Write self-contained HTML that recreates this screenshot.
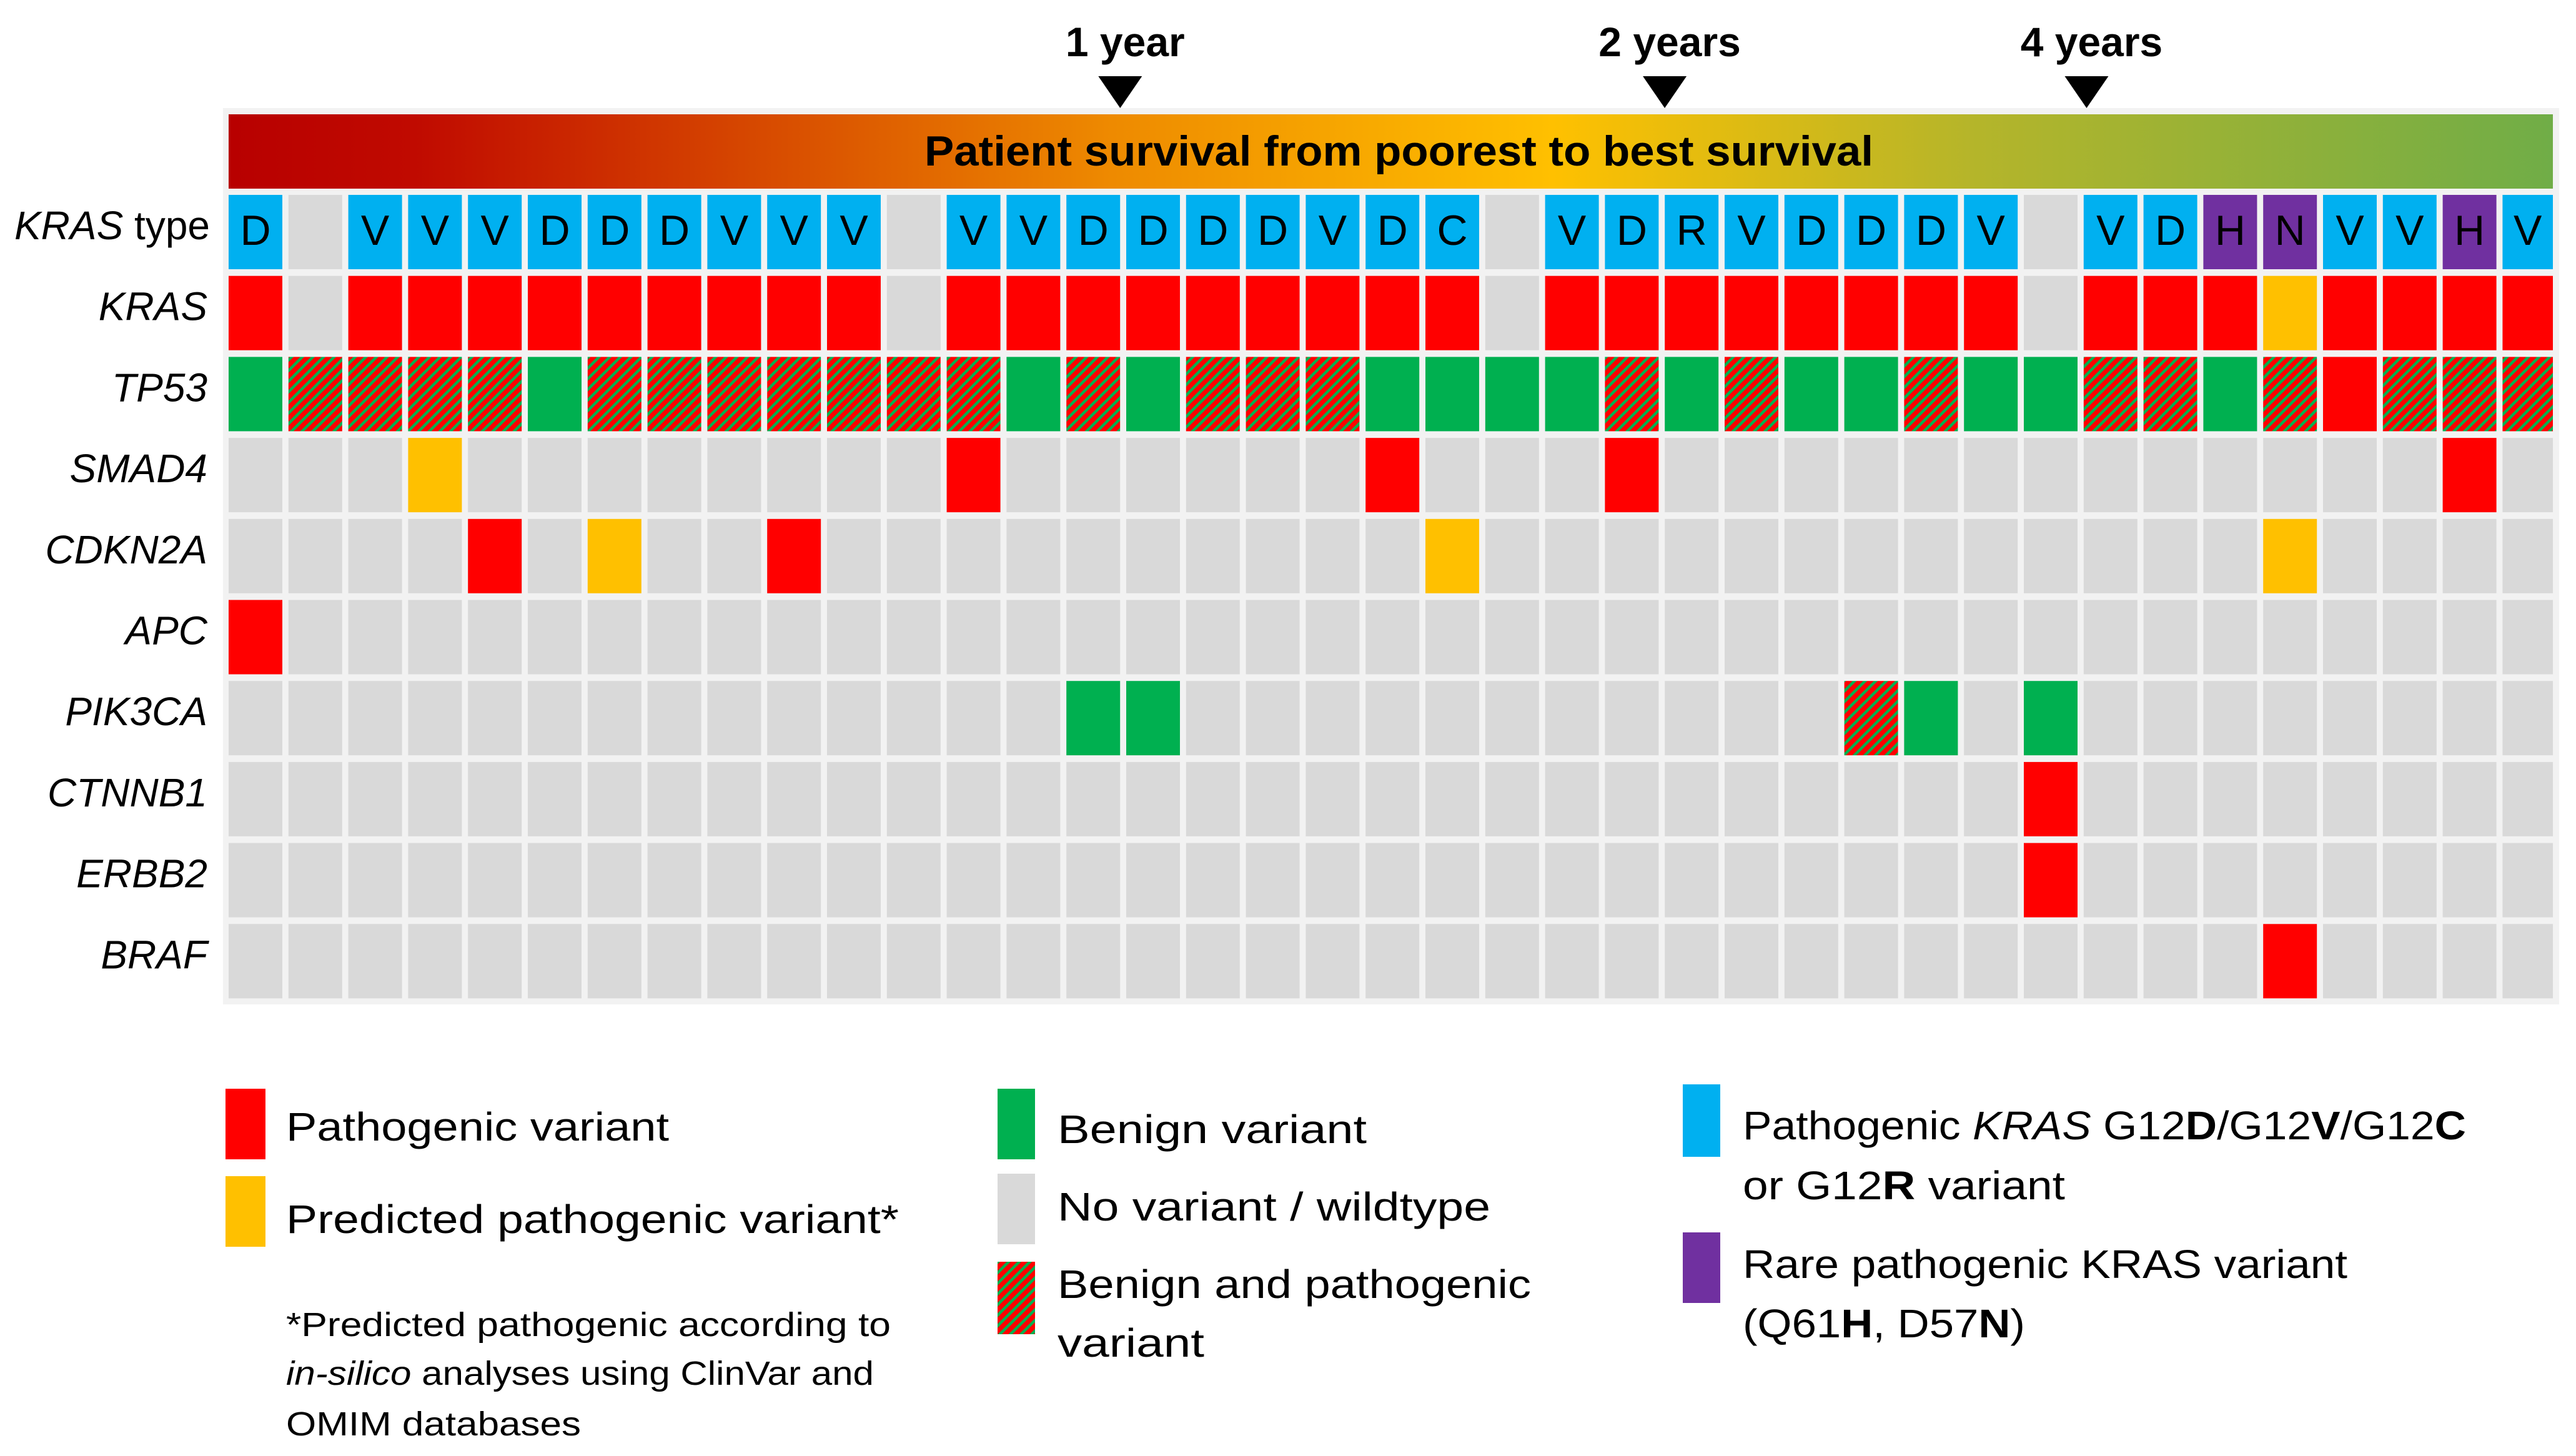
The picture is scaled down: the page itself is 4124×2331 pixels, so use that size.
<!DOCTYPE html>
<html><head><meta charset="utf-8"><style>
html,body{margin:0;padding:0;background:#fff;}
svg{display:block;}
text{font-family:"Liberation Sans",sans-serif;}
</style></head><body>
<svg id="chart" xmlns="http://www.w3.org/2000/svg" width="4124" height="2331" viewBox="0 0 4124 2331">
<defs>
<linearGradient id="surv" x1="0" x2="1" y1="0" y2="0">
<stop offset="0" stop-color="#B80000"/>
<stop offset="0.08" stop-color="#C00A00"/>
<stop offset="0.38" stop-color="#EE8A00"/>
<stop offset="0.57" stop-color="#FFC000"/>
<stop offset="0.75" stop-color="#B5B52A"/>
<stop offset="1" stop-color="#70AD47"/>
</linearGradient>
<pattern id="hatch" patternUnits="userSpaceOnUse" width="12" height="12" patternTransform="rotate(45)">
<rect x="0" y="0" width="12" height="12" fill="#FF0000"/>
<rect x="0" y="0" width="4.5" height="12" fill="#00B050"/>
</pattern>
</defs>
<rect x="357" y="173" width="3740" height="1435" fill="#F2F2F2"/>
<rect x="366" y="183" width="3721" height="119" fill="url(#surv)"/>
<text x="1480" y="265" font-size="68" font-weight="bold" textLength="1519" lengthAdjust="spacingAndGlyphs" fill="#000">Patient survival from poorest to best survival</text>
<g id="markers"></g>
<g id="cells"></g>
<g id="labels"></g>
<g>
<rect x="361" y="1743" width="64" height="113" fill="#FF0000"/>
<text x="458" y="1826" font-size="64" textLength="613" lengthAdjust="spacingAndGlyphs">Pathogenic variant</text>
<rect x="361" y="1883" width="64" height="113" fill="#FFC000"/>
<text x="458" y="1974" font-size="64" textLength="981" lengthAdjust="spacingAndGlyphs">Predicted pathogenic variant*</text>
<text x="458" y="2139" font-size="54" textLength="968" lengthAdjust="spacingAndGlyphs">*Predicted pathogenic according to</text>
<text x="458" y="2217" font-size="54" textLength="941" lengthAdjust="spacingAndGlyphs"><tspan font-style="italic">in-silico</tspan> analyses using ClinVar and</text>
<text x="458" y="2298" font-size="54" textLength="472" lengthAdjust="spacingAndGlyphs">OMIM databases</text>
<rect x="1597" y="1743" width="60" height="113" fill="#00B050"/>
<text x="1693" y="1830" font-size="64" textLength="495" lengthAdjust="spacingAndGlyphs">Benign variant</text>
<rect x="1597" y="1879" width="60" height="113" fill="#D9D9D9"/>
<text x="1693" y="1954" font-size="64" textLength="693" lengthAdjust="spacingAndGlyphs">No variant / wildtype</text>
<rect x="1597" y="2020" width="60" height="116" fill="url(#hatch)"/>
<text x="1693" y="2078" font-size="64" textLength="758" lengthAdjust="spacingAndGlyphs">Benign and pathogenic</text>
<text x="1693" y="2172" font-size="64" textLength="235" lengthAdjust="spacingAndGlyphs">variant</text>
<rect x="2694" y="1736" width="60" height="116" fill="#00B0F0"/>
<text x="2790" y="1824" font-size="64" textLength="1158" lengthAdjust="spacingAndGlyphs">Pathogenic <tspan font-style="italic">KRAS</tspan> G12<tspan font-weight="bold">D</tspan>/G12<tspan font-weight="bold">V</tspan>/G12<tspan font-weight="bold">C</tspan></text>
<text x="2790" y="1920" font-size="64" textLength="516" lengthAdjust="spacingAndGlyphs">or G12<tspan font-weight="bold">R</tspan> variant</text>
<rect x="2694" y="1973" width="60" height="113" fill="#7030A0"/>
<text x="2790" y="2046" font-size="64" textLength="968" lengthAdjust="spacingAndGlyphs">Rare pathogenic KRAS variant</text>
<text x="2790" y="2141" font-size="64" textLength="452" lengthAdjust="spacingAndGlyphs">(Q61<tspan font-weight="bold">H</tspan>, D57<tspan font-weight="bold">N</tspan>)</text>
</g>
</svg>
<script>
const genes = ["KRAS", "TP53", "SMAD4", "CDKN2A", "APC", "PIK3CA", "CTNNB1", "ERBB2", "BRAF"];
const krasType = ["D","","V","V","V","D","D","D","V","V","V","","V","V","D","D","D","D","V","D","C","","V","D","R","V","D","D","D","V","","V","D","H","N","V","V","H","V"];
const rareTypes = ["H","N"];
const rowKRAS   = [1,0,1,1,1,1,1,1,1,1,1,0,1,1,1,1,1,1,1,1,1,0,1,1,1,1,1,1,1,1,0,1,1,1,2,1,1,1,1];
const rowTP53   = [3,4,4,4,4,3,4,4,4,4,4,4,4,3,4,3,4,4,4,3,3,3,3,4,3,4,3,3,4,3,3,4,4,3,4,1,4,4,4];
const rowSMAD4  = [0,0,0,2,0,0,0,0,0,0,0,0,1,0,0,0,0,0,0,1,0,0,0,1,0,0,0,0,0,0,0,0,0,0,0,0,0,1,0];
const rowCDKN2A = [0,0,0,0,1,0,2,0,0,1,0,0,0,0,0,0,0,0,0,0,2,0,0,0,0,0,0,0,0,0,0,0,0,0,2,0,0,0,0];
const rowAPC    = [1,0,0,0,0,0,0,0,0,0,0,0,0,0,0,0,0,0,0,0,0,0,0,0,0,0,0,0,0,0,0,0,0,0,0,0,0,0,0];
const rowPIK3CA = [0,0,0,0,0,0,0,0,0,0,0,0,0,0,3,3,0,0,0,0,0,0,0,0,0,0,0,4,3,0,3,0,0,0,0,0,0,0,0];
const rowCTNNB1 = [0,0,0,0,0,0,0,0,0,0,0,0,0,0,0,0,0,0,0,0,0,0,0,0,0,0,0,0,0,0,1,0,0,0,0,0,0,0,0];
const rowERBB2  = [0,0,0,0,0,0,0,0,0,0,0,0,0,0,0,0,0,0,0,0,0,0,0,0,0,0,0,0,0,0,1,0,0,0,0,0,0,0,0];
const rowBRAF   = [0,0,0,0,0,0,0,0,0,0,0,0,0,0,0,0,0,0,0,0,0,0,0,0,0,0,0,0,0,0,0,0,0,0,1,0,0,0,0];
const markerLabels = ["1 year", "2 years", "4 years"];
const markerPositions = [14.95, 24.05, 31.1];

const geneRows = [rowKRAS,rowTP53,rowSMAD4,rowCDKN2A,rowAPC,rowPIK3CA,rowCTNNB1,rowERBB2,rowBRAF];
const NS = "http://www.w3.org/2000/svg";
const fills = ["#D9D9D9","#FF0000","#FFC000","#00B050","url(#hatch)"];
const X0 = 366, PITCH = 95.8, CW = 86, Y0 = 312, RPITCH = 129.7, RH = 119, GRID_RIGHT = 4087;
function xCol(i){ return X0 + i*PITCH; }
function yRow(r){ return Y0 + r*RPITCH; }
function colW(i){ return Math.min(CW, GRID_RIGHT - xCol(i)); }
function mk(tag, attrs, parent){ const e=document.createElementNS(NS,tag); for(const k in attrs) e.setAttribute(k,attrs[k]); parent.appendChild(e); return e; }

const cells = document.getElementById('cells');
const labels = document.getElementById('labels');
const markers = document.getElementById('markers');

krasType.forEach((t,i)=>{
  const fill = t==="" ? "#D9D9D9" : (rareTypes.includes(t) ? "#7030A0" : "#00B0F0");
  const r = mk('rect',{x:xCol(i),y:yRow(0),width:colW(i),height:RH,fill:fill},cells);
  
  
  if(t!==""){
    const tx = mk('text',{x:xCol(i)+colW(i)/2,y:yRow(0)+80,'font-size':68,'text-anchor':'middle',fill:'#000'},cells);
    tx.textContent = t;
    
    
  }
});
geneRows.forEach((row,g)=>{
  row.forEach((v,i)=>{
    const r = mk('rect',{x:xCol(i),y:yRow(g+1),width:colW(i),height:RH,fill:fills[v]},cells);
    
    
  });
});
const lt = mk('text',{x:336,y:yRow(0)+71,'font-size':64,'text-anchor':'end',fill:'#000'},labels);
lt.innerHTML = '<tspan font-style="italic">KRAS</tspan> type';


genes.forEach((g,k)=>{
  const t = mk('text',{x:332,y:yRow(k+1)+71,'font-size':64,'font-style':'italic','text-anchor':'end',fill:'#000'},labels);
  t.textContent = g;
  
  
});
markerLabels.forEach((lab,k)=>{
  const cx = X0 + markerPositions[k]*PITCH - (PITCH-CW)/2;
  const tri = mk('path',{d:`M${cx-35},122 L${cx+35},122 L${cx},173 Z`,fill:'#000'},markers);
  
  
  const t = mk('text',{x:cx+8,y:90,'font-size':66,'font-weight':'bold','text-anchor':'middle',fill:'#000'},markers);
  t.textContent = lab;
  
  
});
</script>
</body></html>
